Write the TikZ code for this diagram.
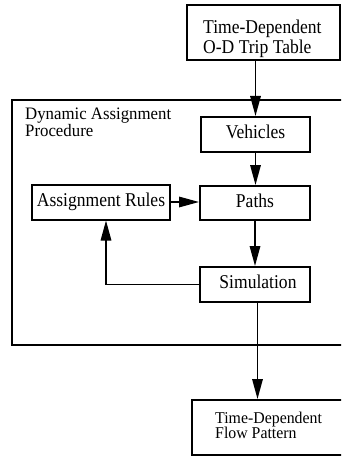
\documentclass[tikz,border=0pt]{standalone}
\usepackage{fontspec}
\setmainfont{Liberation Serif}
\newfontfamily\boxfam{Liberation Serif}[FakeStretch=0.9]
\newfontfamily\thinfam{Liberation Serif}[FakeStretch=0.96]
\usetikzlibrary{arrows.meta,calc}

\tikzset{
  blk/.style={draw, rectangle, line width=2pt, inner sep=0pt},
  inbox/.style={blk, font=\boxfam\fontsize{19.5}{20}\selectfont,
                text height=12pt, text depth=3.5pt},
  % anchored at the baseline of the last line
  multi/.style={inner sep=0pt, anchor=base west, align=left},
  conn/.style={line width=1.6pt, -{Triangle[length=20pt,width=10.5pt]}},
}

\begin{document}
\begin{tikzpicture}[x=1pt,y=-1pt]
\useasboundingbox (0,0) rectangle (341,457);
\fill[white] (0,0) rectangle (341,457);
\clip (0,0) rectangle (341,457);

% input table
\node[blk, minimum width=153pt, minimum height=55pt] (odt) at (263.5,32.5) {};
\node[multi, font=\boxfam\fontsize{19.5}{20}\selectfont] (odttxt) at (203,53.3)
  {Time-Dependent\\O-D Trip Table};

% enclosing procedure frame
\node[blk, minimum width=368pt, minimum height=245pt] (proc) at (196,222.5) {};
\node[multi, font=\thinfam\fontsize{17.5}{17.5}\selectfont] (proctxt) at (25,136.7)
  {Dynamic Assignment\\Procedure};

% inner steps
\node[inbox, minimum width=109pt, minimum height=35pt] (veh) at (255.5,134.5) {Vehicles};
\node[inbox, minimum width=110pt, minimum height=34pt] (paths) at (255,203) {Paths};
\node[inbox, minimum width=138pt, minimum height=35pt] (rules) at (101,202) {Assignment Rules};
\node[inbox, minimum width=110pt, minimum height=35pt] (sim) at (254.5,284.5) {\hspace*{7pt}Simulation};

% output pattern
\node[blk, minimum width=188pt, minimum height=55pt] (flow) at (286,427.5) {};
\node[multi, font=\thinfam\fontsize{16.5}{15}\selectfont] (flowtxt) at (215,438)
  {Time-Dependent\\Flow Pattern};

% connectors
\draw[conn] (veh.north |- odt.south) -- (veh.north);
\draw[conn] (veh.south) -- (veh.south |- paths.north);
\draw[conn] (paths.south) -- (paths.south |- sim.north);
\draw[conn] (rules.east) -- (rules.east -| paths.west);
\draw[conn] (sim.west) -| ([xshift=5pt]rules.south);
\draw[conn] ([xshift=3pt]sim.south) -- ([xshift=3pt]sim.south |- flow.north);
\end{tikzpicture}
\end{document}
